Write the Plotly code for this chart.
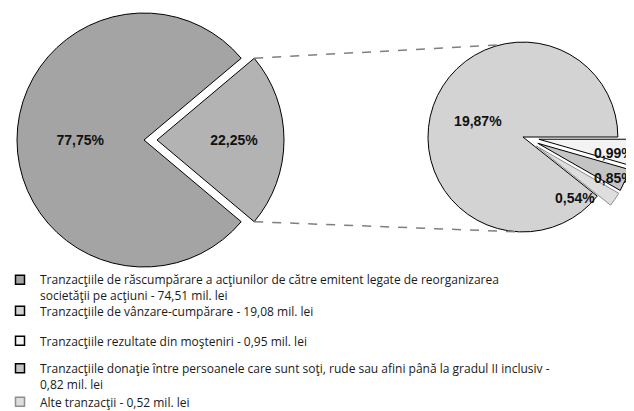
import math
import plotly.graph_objects as go

# ---------------- data ----------------
legend_labels = [
    "Tranzacţiile de răscumpărare a acţiunilor de către emitent legate de reorganizarea<br>societăţii pe acţiuni - 74,51 mil. lei",
    "Tranzacţiile de vânzare-cumpărare - 19,08 mil. lei",
    "Tranzacţiile rezultate din moşteniri - 0,95 mil. lei",
    "Tranzacţiile donaţie între persoanele care sunt soţi, rude sau afini până la gradul II inclusiv -<br>0,82 mil. lei",
    "Alte tranzacţii - 0,52 mil. lei",
]
amounts_mil_lei = [74.51, 19.08, 0.95, 0.82, 0.52]
shares_pct = [77.75, 19.87, 0.99, 0.85, 0.54]

# main pie: [bundle of the rest, first category]
main_values = [round(sum(shares_pct[1:]), 2), shares_pct[0]]
# secondary pie: small ones first (clockwise from 3 o'clock), then the big one
sec_values = [shares_pct[2], shares_pct[3], shares_pct[4], shares_pct[1]]

# ---------------- styles / geometry (window pixels) ----------------
OX, OY = 8, 8            # page offset of the figure inside the window
FW, FH = 626, 403        # figure size
cat_colors = ["#a4a4a4", "#d3d3d3", "#f3f3f3", "#c4c4c4", "#dedede"]
cat_edges = ["#000000", "#000000", "#000000", "#000000", "#8f8f8f"]
bundle_color = "#b3b3b3"
NONE = "rgba(0,0,0,0)"

L_CX, L_CY, L_R, L_EXPLODE = 144, 140, 127, 13
R_CX, R_CY, R_R, R_PULL = 523, 137, 95, 0.17


def fx(X):
    return (X - OX) / FW


def fy(Y):
    return 1 - (Y - OY) / FH


def dom(cx, cy, r, pull=0.0):
    half = r * (1 + pull)
    x0, x1 = max(0, fx(cx - half)), min(1, fx(cx + half))
    y0, y1 = max(0, fy(cy + half)), min(1, fy(cy - half))
    return dict(x=[x0, x1], y=[y0, y1])


label_font = dict(family="Liberation Sans", size=14, color="#111111")
tmpl = "<b>%{value:.2f}%</b>"

fig = go.Figure()

# main pie: big slice
half_angle = main_values[0] / sum(main_values) * 180
main_labels = ["Alte categorii", legend_labels[0]]
fig.add_trace(go.Pie(
    values=main_values, labels=main_labels,
    sort=False, direction="clockwise", rotation=90 - half_angle,
    marker=dict(colors=[NONE, cat_colors[0]], line=dict(color=[NONE, "#000000"], width=1)),
    texttemplate=["", tmpl], textposition="inside",
    insidetextorientation="horizontal", textfont=label_font,
    domain=dom(L_CX, L_CY, L_R), showlegend=False, hoverinfo="skip",
))
# main pie: exploded bundle slice
fig.add_trace(go.Pie(
    values=main_values, labels=main_labels,
    sort=False, direction="clockwise", rotation=90 - half_angle,
    marker=dict(colors=[bundle_color, NONE], line=dict(color=["#000000", NONE], width=1)),
    texttemplate=[tmpl, ""], textposition="inside",
    insidetextorientation="horizontal", textfont=label_font,
    domain=dom(L_CX + L_EXPLODE, L_CY, L_R), showlegend=False, hoverinfo="skip",
))

# secondary pie
fig.add_trace(go.Pie(
    values=sec_values,
    labels=[legend_labels[2], legend_labels[3], legend_labels[4], legend_labels[1]],
    sort=False, direction="clockwise", rotation=90,
    pull=[R_PULL, R_PULL, R_PULL, 0],
    marker=dict(colors=[cat_colors[2], cat_colors[3], cat_colors[4], cat_colors[1]],
                line=dict(color=[cat_edges[2], cat_edges[3], cat_edges[4], cat_edges[1]], width=1)),
    texttemplate=["", "", "", tmpl], textposition="inside",
    insidetextorientation="horizontal", textfont=label_font,
    domain=dom(R_CX, R_CY, R_R, R_PULL), showlegend=False, hoverinfo="skip",
))

# labels for the thin slices of the secondary pie
tot = sum(sec_values)
cum = 0
nudges = [(2.0, 0.83), (1.3, 0.90), (15.4, 0.72)]  # (angle deg, radial factor)
for v, (da, fr) in zip(sec_values[:3], nudges):
    phi = math.radians((cum + v / 2) / tot * 360 + da)
    cum += v
    px = R_CX + fr * R_R * (1 + R_PULL) * math.cos(phi)
    py = R_CY + fr * R_R * (1 + R_PULL) * math.sin(phi)
    fig.add_annotation(x=fx(px), y=fy(py), xref="paper", yref="paper",
                       text="<b>%s%%</b>" % (("%.2f" % v).replace(".", ",")),
                       showarrow=False, font=label_font, xanchor="center", yanchor="middle")

# dashed connectors between the pies
a = math.radians(half_angle)
ex_cx = L_CX + L_EXPLODE
starts = [(ex_cx + L_R * math.cos(a), L_CY - L_R * math.sin(a)),
          (ex_cx + L_R * math.cos(a), L_CY + L_R * math.sin(a))]
end_angles = [math.radians(104), math.radians(-93)]
for (sx, sy), ea in zip(starts, end_angles):
    exx = R_CX + R_R * math.cos(ea)
    eyy = R_CY - R_R * math.sin(ea)
    fig.add_shape(type="line", xref="paper", yref="paper",
                  x0=fx(sx), y0=fy(sy), x1=fx(exx), y1=fy(eyy),
                  line=dict(color="#7f7f7f", width=1.5, dash="dash"))

# legend entries (one legend per entry to mimic the spacing)
legend_centers = [288, 311, 341, 376.5, 402]
LEG_LEFT = 0  # window px of the legend box left edge (text starts 40px further)
for i, (lab, col, edge, yc) in enumerate(zip(legend_labels, cat_colors, cat_edges, legend_centers)):
    lname = "legend" if i == 0 else "legend%d" % (i + 1)
    fig.add_trace(go.Scatter(
        x=[None], y=[None], mode="markers", name=lab,
        marker=dict(symbol="square", size=9, color=col, line=dict(color=edge, width=1.5)),
        legend=lname, showlegend=True, hoverinfo="skip",
    ))
    fig.update_layout({lname: dict(
        x=fx(LEG_LEFT), xanchor="left", y=fy(yc), yanchor="middle",
        bgcolor="rgba(0,0,0,0)", borderwidth=0, valign="top",
        font=dict(family="Open Sans", size=12, color="#1a1a1a"),
    )})

fig.update_layout(
    width=FW, height=FH,
    margin=dict(l=0, r=0, t=0, b=0, autoexpand=False),
    paper_bgcolor="white", plot_bgcolor="white",
    separators=",.",
    xaxis=dict(visible=False), yaxis=dict(visible=False),
)

fig.write_html("out.html")
